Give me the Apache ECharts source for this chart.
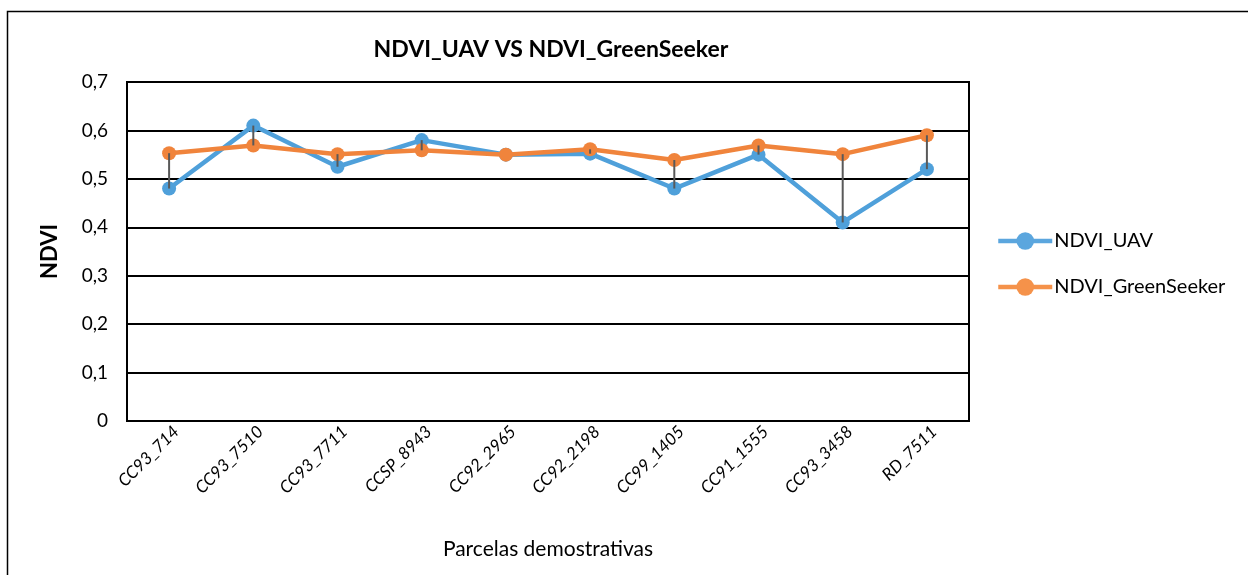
<!DOCTYPE html>
<html>
<head>
<meta charset="utf-8">
<script src="https://cdn.jsdelivr.net/npm/echarts@6/dist/echarts.min.js"></script>
<style>html,body{margin:0;padding:0;background:#fff;}#c{width:1248px;height:575px;}</style>
</head>
<body>
<div id="c"></div>
<script>
const categories = ['CC93_714','CC93_7510','CC93_7711','CCSP_8943','CC92_2965','CC92_2198','CC99_1405','CC91_1555','CC93_3458','RD_7511'];
const ndviUAV = [0.48, 0.61, 0.525, 0.58, 0.55, 0.552, 0.48, 0.55, 0.41, 0.52];
const ndviGreenSeeker = [0.553, 0.569, 0.551, 0.559, 0.55, 0.561, 0.539, 0.569, 0.551, 0.59];
const yTicks = [0, 0.1, 0.2, 0.3, 0.4, 0.5, 0.6, 0.7];

const FONT = 'Lato, "Open Sans", sans-serif';
const chart = echarts.init(document.getElementById('c'), null, {renderer: 'canvas'});
const hl = categories.map((c, i) => [i, ndviUAV[i], ndviGreenSeeker[i]]);

chart.setOption({
  animation: false,
  backgroundColor: '#fff',
  textStyle: {fontFamily: FONT},
  title: {
    text: 'NDVI_UAV VS NDVI_GreenSeeker',
    left: 546, top: 33, textAlign: 'center',
    textStyle: {fontFamily: FONT, fontSize: 23, fontWeight: 'bold', color: '#000'}
  },
  graphic: [{
    type: 'rect', left: 5, top: 9, shape: {x: 0, y: 0, width: 1260, height: 600},
    style: {fill: 'none', stroke: '#000', lineWidth: 1.5}, silent: true
  }],
  legend: {
    orient: 'vertical', left: 991, top: 226, itemGap: 26,
    itemWidth: 54, itemHeight: 22,
    textStyle: {fontFamily: FONT, fontSize: 20, color: '#000', padding: [0, 0, 0, -3]},
    data: [
      {name: 'NDVI_UAV', lineStyle: {width: 4.5, color: '#5BA6DE'}, itemStyle: {color: '#5BA6DE'}},
      {name: 'NDVI_GreenSeeker', lineStyle: {width: 4.5, color: '#F5924A'}, itemStyle: {color: '#F5924A'}}
    ]
  },
  grid: {left: 127, right: 279, top: 82, bottom: 154, show: true, borderColor: '#000', borderWidth: 2},
  xAxis: {
    type: 'category', data: categories, boundaryGap: true,
    axisLine: {lineStyle: {color: '#000', width: 2}},
    axisTick: {show: false},
    axisLabel: {rotate: 45, fontStyle: 'italic', fontSize: 17, color: '#000', margin: 15, fontFamily: FONT,
      padding: [0, -10, 0, 0]},
    name: 'Parcelas demostrativas', nameLocation: 'middle', nameGap: 118,
    nameTextStyle: {fontSize: 21, color: '#000', fontFamily: FONT}
  },
  yAxis: {
    type: 'value', min: yTicks[0], max: yTicks[yTicks.length - 1], interval: 0.1,
    axisLine: {show: true, lineStyle: {color: '#000', width: 2}},
    axisTick: {show: false},
    splitLine: {lineStyle: {color: '#000', width: 2}},
    axisLabel: {fontSize: 19, color: '#000', margin: 19, fontFamily: FONT,
      formatter: v => (Math.round(v * 10) / 10).toString().replace('.', ',')},
    name: 'NDVI', nameLocation: 'middle', nameGap: 66, nameRotate: 90,
    nameTextStyle: {fontSize: 22, fontWeight: 'bold', color: '#000', fontFamily: FONT}
  },
  series: [
    {
      name: 'NDVI_UAV', type: 'line', data: ndviUAV, symbol: 'circle', symbolSize: 14,
      lineStyle: {color: '#4FA0DA', width: 4.5}, itemStyle: {color: '#4FA0DA'}, z: 3
    },
    {
      name: 'NDVI_GreenSeeker', type: 'line', data: ndviGreenSeeker, symbol: 'circle', symbolSize: 14,
      lineStyle: {color: '#F0843C', width: 4.5}, itemStyle: {color: '#F0843C'}, z: 4
    },
    {
      name: 'hl', type: 'custom', data: hl, z: 6, silent: true,
      renderItem: (params, api) => {
        const i = api.value(0);
        const a = api.coord([i, api.value(1)]);
        const b = api.coord([i, api.value(2)]);
        return {type: 'line', shape: {x1: a[0], y1: a[1], x2: b[0], y2: b[1]},
          style: {stroke: '#595959', lineWidth: 2}};
      }
    }
  ]
});
</script>
</body>
</html>
